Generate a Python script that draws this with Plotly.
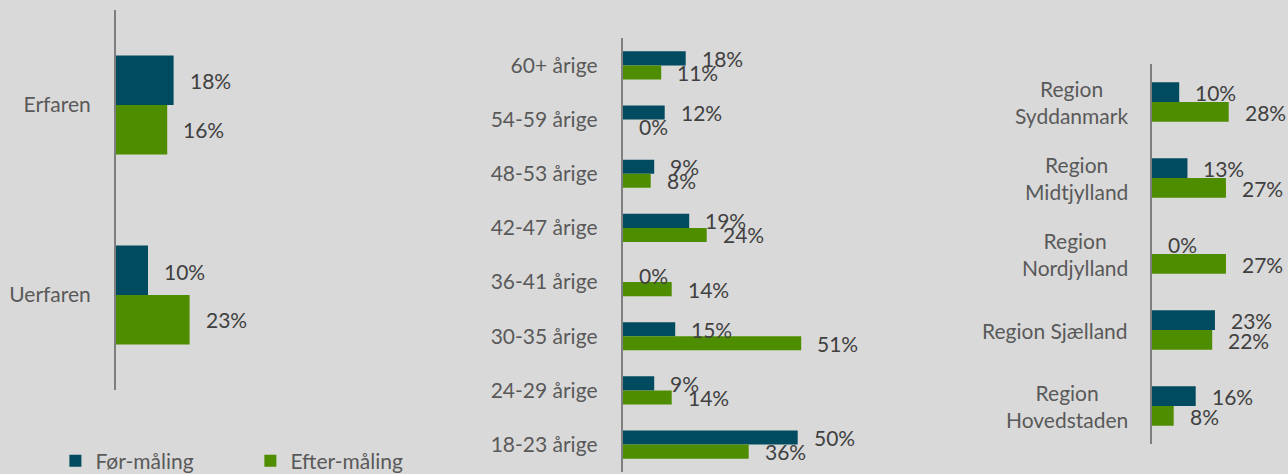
import plotly.graph_objects as go

# ---------------- data ----------------
cats1 = ["Erfaren", "Uerfaren"]
foer1 = [18, 10]
efter1 = [16, 23]

cats2 = ["60+ årige", "54-59 årige", "48-53 årige", "42-47 årige",
         "36-41 årige", "30-35 årige", "24-29 årige", "18-23 årige"]
foer2 = [18, 12, 9, 19, 0, 15, 9, 50]
efter2 = [11, 0, 8, 24, 14, 51, 14, 36]

cats3 = ["Region Syddanmark", "Region Midtjylland", "Region Nordjylland",
         "Region Sjælland", "Region Hovedstaden"]
ticks3 = ["Region<br>Syddanmark", "Region<br>Midtjylland", "Region<br>Nordjylland",
          "Region Sjælland", "Region<br>Hovedstaden"]
foer3 = [10, 13, 0, 23, 16]
efter3 = [28, 27, 27, 22, 8]

series_names = ["Før-måling", "Efter-måling"]

# ---------------- style ----------------
C_FOER = "#004b5f"
C_EFTER = "#4e8c00"
BG = "#d9d9d9"
FONT = "Lato"
TXT = "#404040"
TICK = "#595959"
BW = 0.26
FS = 21

fig = go.Figure()

panels = [
    (cats1, foer1, efter1, "x", "y", 24),
    (cats2, foer2, efter2, "x2", "y2", 7),
    (cats3, foer3, efter3, "x3", "y3", 10),
]

annotations = []
for i, (cats, f, e, xa, ya, shift) in enumerate(panels):
    fig.add_trace(go.Bar(
        y=cats, x=f, orientation="h", name=series_names[0],
        marker=dict(color=C_FOER, line=dict(width=0)),
        width=BW, offset=-BW, xaxis=xa, yaxis=ya,
        showlegend=(i == 0), legendgroup="f", hoverinfo="skip"))
    fig.add_trace(go.Bar(
        y=cats, x=e, orientation="h", name=series_names[1],
        marker=dict(color=C_EFTER, line=dict(width=0)),
        width=BW, offset=0, xaxis=xa, yaxis=ya,
        showlegend=(i == 0), legendgroup="e", hoverinfo="skip"))
    for c, v in zip(cats, f):
        annotations.append(dict(x=v, y=c, xref=xa, yref=ya, text=f"{v}%",
                                showarrow=False, xanchor="left", xshift=14,
                                yshift=shift, font=dict(family=FONT, size=FS, color=TXT)))
    for c, v in zip(cats, e):
        annotations.append(dict(x=v, y=c, xref=xa, yref=ya, text=f"{v}%",
                                showarrow=False, xanchor="left", xshift=14,
                                yshift=-shift, font=dict(family=FONT, size=FS, color=TXT)))

# centered two-line category labels for the region panel
for c, t in zip(cats3, ticks3):
    annotations.append(dict(x=0, y=c, xref="x3 domain", yref="y3", text=t,
                            showarrow=False, xanchor="right", xshift=-22,
                            align="center",
                            font=dict(family=FONT, size=FS, color=TICK)))

W, H = 1288, 474
def px_x(p):
    return p / W
def px_y(p):
    return 1 - p / H

xcommon = dict(showgrid=False, zeroline=False, showticklabels=False, showline=False, ticks="")
ycommon = dict(showgrid=False, zeroline=False, showline=True, linecolor="#7f7f7f",
               linewidth=2, ticks="", autorange="reversed",
               tickfont=dict(family=FONT, size=FS, color=TICK), ticklabelstandoff=19)

fig.update_layout(
    width=W, height=H,
    paper_bgcolor=BG, plot_bgcolor=BG,
    margin=dict(l=0, r=0, t=0, b=0, autoexpand=False),
    barmode="overlay",
    font=dict(family=FONT, size=FS, color=TICK),
    xaxis=dict(domain=[px_x(116), px_x(116 + 3.2 * 80)], range=[0, 80], **xcommon),
    yaxis=dict(domain=[px_y(390), px_y(10)], anchor="x",
               categoryorder="array", categoryarray=cats1, **ycommon),
    xaxis2=dict(domain=[px_x(622.7), px_x(622.7 + 3.5 * 80)], range=[0, 80],
                anchor="y2", **xcommon),
    yaxis2=dict(domain=[px_y(471.7), px_y(38.3)], anchor="x2",
                categoryorder="array", categoryarray=cats2, **ycommon),
    xaxis3=dict(domain=[px_x(1151.7), px_x(1151.7 + 2.75 * 45)], range=[0, 45],
                anchor="y3", **xcommon),
    yaxis3=dict(domain=[px_y(444), px_y(64)], anchor="x3",
                categoryorder="array", categoryarray=cats3,
                **{**ycommon, "showticklabels": False}),
    legend=dict(orientation="h", x=0.043, xanchor="left", y=px_y(461), yanchor="middle",
                bgcolor="rgba(0,0,0,0)", font=dict(family=FONT, size=FS, color=TICK),
                entrywidth=150, entrywidthmode="pixels", traceorder="normal"),
    annotations=annotations,
    showlegend=True,
)

fig.write_html("out.html",
               config={"displayModeBar": False},
               post_script="document.body.style.margin='0px';document.body.style.overflow='hidden';document.body.style.background='#d9d9d9';")
